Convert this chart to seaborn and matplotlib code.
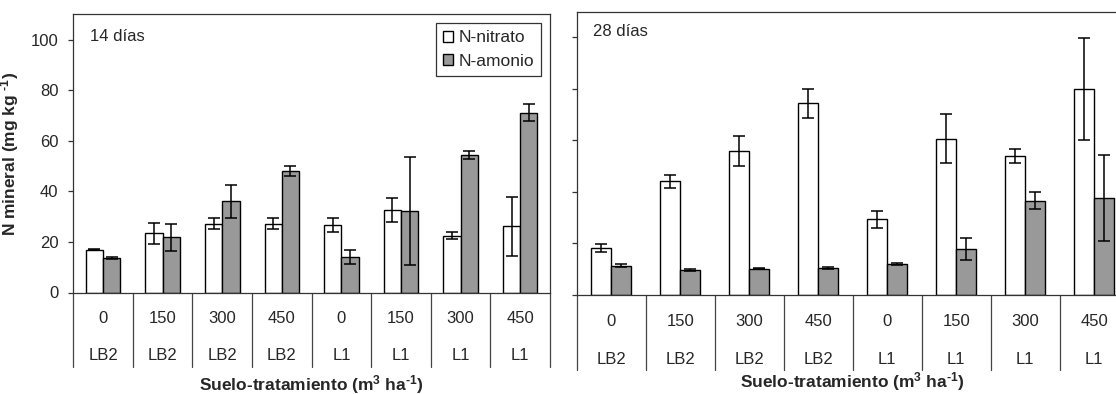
import numpy as np
import pandas as pd
import matplotlib
matplotlib.use("Agg")
import matplotlib.pyplot as plt
import matplotlib.transforms as mtransforms
import seaborn as sns

DOSIS = ["0", "150", "300", "450", "0", "150", "300", "450"]
SUELO = ["LB2", "LB2", "LB2", "LB2", "L1", "L1", "L1", "L1"]
FORMAS = ["N-nitrato", "N-amonio"]
PALETTE = {"N-nitrato": "white", "N-amonio": "#999999"}

# 14 dias
nitrato_14 = [17.0, 23.4, 27.2, 27.2, 26.7, 32.7, 22.5, 26.2]
nitrato_14_err = [0.3, 4.2, 2.2, 2.2, 2.8, 4.7, 1.4, 11.7]
amonio_14 = [13.7, 21.8, 36.0, 48.0, 14.2, 32.2, 54.4, 71.1]
amonio_14_err = [0.3, 5.4, 6.4, 2.1, 2.8, 21.3, 1.5, 3.3]

# 28 dias
nitrato_28 = [18.3, 44.1, 55.8, 74.4, 29.4, 60.6, 54.1, 79.8]
nitrato_28_err = [1.6, 2.6, 5.8, 5.7, 3.2, 9.5, 2.7, 19.8]
amonio_28 = [11.4, 9.7, 10.2, 10.4, 11.9, 17.8, 36.6, 37.5]
amonio_28_err = [0.6, 0.4, 0.2, 0.3, 0.4, 4.2, 3.2, 16.7]

YTICKS = [0, 20, 40, 60, 80, 100]
XLABEL = "Suelo-tratamiento (m$^3$ ha$^{\u2010" + "1}$)"
YLABEL = "N mineral (mg kg $^{\u2010" + "1}$)"

sns.set_theme(style="white")
plt.rcParams["font.family"] = ["Liberation Sans", "DejaVu Sans"]
plt.rcParams["mathtext.default"] = "regular"


def long_df(nitrato, amonio):
    trat = [f"{s} {d}" for s, d in zip(SUELO, DOSIS)]
    return pd.DataFrame({
        "trat": trat * 2,
        "forma": [FORMAS[0]] * len(trat) + [FORMAS[1]] * len(trat),
        "valor": nitrato + amonio,
    })


def panel(fig, ax, nitrato, nit_err, amonio, amo_err, titulo, rows_px, legend=False):
    data = long_df(nitrato, amonio)
    sns.barplot(data=data, x="trat", y="valor", hue="forma", hue_order=FORMAS,
                palette=PALETTE, width=0.58, saturation=1, edgecolor="black",
                linewidth=1.0, errorbar=None, legend=legend, ax=ax)
    # error bars on the seaborn bars
    for cont, err in zip(ax.containers, [nit_err, amo_err]):
        xs = [p.get_x() + p.get_width() / 2 for p in cont.patches]
        ys = [p.get_height() for p in cont.patches]
        ax.errorbar(xs, ys, yerr=err, fmt="none", ecolor="black",
                    elinewidth=1.1, capsize=4.2, capthick=1.1, zorder=5)

    ax.set_xlim(-0.5, 7.5)
    ax.set_ylim(0, 110)
    ax.set_yticks(YTICKS)
    ax.set_xlabel("")
    ax.set_ylabel("")
    ax.tick_params(axis="x", bottom=False, labelbottom=False)
    ax.tick_params(axis="y", left=True, direction="out", length=3.6,
                   width=0.9, color="#333333", pad=7, labelsize=12)
    for sp in ax.spines.values():
        sp.set_color("#333333")
        sp.set_linewidth(0.9)

    ax.text(0.035 if legend else 0.029, 0.92 if legend else 0.929, titulo,
            transform=ax.transAxes, fontsize=12, va="center", ha="left")

    # two-row category axis below the plot
    base = mtransforms.blended_transform_factory(ax.transData, ax.transAxes)
    row1, row2, div, lab = rows_px
    t1 = mtransforms.offset_copy(base, fig=fig, y=-row1, units="dots")
    t2 = mtransforms.offset_copy(base, fig=fig, y=-row2, units="dots")
    tl = mtransforms.offset_copy(base, fig=fig, y=-lab, units="dots")
    for i, (d, s) in enumerate(zip(DOSIS, SUELO)):
        ax.text(i, 0, d, transform=t1, ha="center", va="center", fontsize=12)
        ax.text(i, 0, s, transform=t2, ha="center", va="center", fontsize=12)
    frac = div / ax.bbox.height
    for x in np.arange(-0.5, 8.0, 1.0):
        ax.plot([x, x], [0, -frac], transform=base, color="#444444",
                lw=0.9, clip_on=False)
    ax.text(3.5, 0, XLABEL, transform=tl, ha="center", va="center",
            fontsize=12.5, fontweight="bold")


fig = plt.figure(figsize=(11.16, 3.94), dpi=100)
ax1 = fig.add_axes([73.3 / 1116, 101.5 / 394, 476.7 / 1116, 278.2 / 394])
ax2 = fig.add_axes([576.7 / 1116, 99.0 / 394, 552.0 / 1116, 283.3 / 394])

panel(fig, ax1, nitrato_14, nitrato_14_err, amonio_14, amonio_14_err,
      "14 días", (25.8, 63.5, 74.8, 92.0), legend=True)
panel(fig, ax2, nitrato_28, nitrato_28_err, amonio_28, amonio_28_err,
      "28 días", (26.0, 64.0, 75.0, 87.0), legend=False)
ax2.set_yticklabels([])

ax1.set_ylabel(YLABEL, fontsize=12.5, fontweight="bold")
ax1.yaxis.set_label_coords((21 - 73.3) / 476.7, 0.5)

sns.move_legend(ax1, "upper right", bbox_to_anchor=(0.9805, 0.9677),
                borderaxespad=0, title=None, frameon=True, fancybox=False,
                framealpha=1, edgecolor="#333333", fontsize=12.5,
                handlelength=0.6, handleheight=0.6, handletextpad=0.3,
                labelspacing=0.5, borderpad=0.4)
ax1.get_legend().get_frame().set_linewidth(0.9)

fig.savefig("out.png", dpi=100)
